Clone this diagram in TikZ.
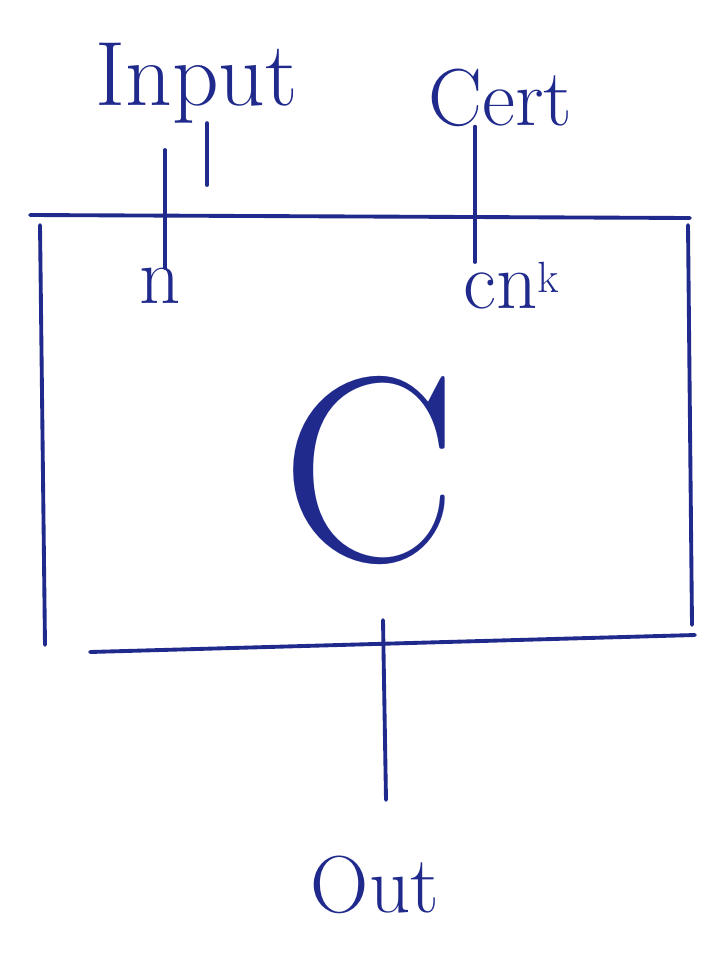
\documentclass[tikz,border=0pt]{standalone}
\definecolor{ink}{RGB}{32,42,140}
\tikzset{
  hand/.style={draw=ink, line width=2.2pt, line cap=round},
  lbl/.style={text=ink, inner sep=0pt, font=\fontsize{46}{50}\selectfont},
}
\begin{document}
\begin{tikzpicture}[x=0.02cm,y=-0.02cm]
\useasboundingbox[fill=white] (0,0) rectangle (722,974);
% box
\draw[hand] (30,215) -- (690,218);
\draw[hand] (40,225) -- (45,645);
\draw[hand] (688,225) -- (692,625);
\draw[hand] (90,652) -- (695,635);
% labels
\node[lbl, anchor=base west, font=\fontsize{52}{56}\selectfont] (input) at (95,105) {Input};
\node[lbl, anchor=base west] (cert) at (428,125) {Cert};
\node[lbl, anchor=north] (n) at (160,268) {n};
\node[lbl, anchor=north west] (cn) at (463,262) {cn$^{\mathrm{k}}$};
\node[lbl, font=\fontsize{150}{160}\selectfont] (C) at (370,470) {C};
\node[lbl] (out) at (375,885) {Out};
% connectors
\coordinate (inTop) at (165,150);
\coordinate (certTop) at (475,0);
\coordinate (outTop) at (383,620);
\coordinate (outEnd) at (386,800);
\coordinate (pTop) at (207,0);
\coordinate (pEnd) at (207,185);
\draw[hand] (inTop) -- (inTop |- n.north);
\draw[hand] (certTop |- cert.south) -- (certTop |- cn.north);
\draw[hand] (outTop) -- (outEnd);
\draw[hand] (pTop |- input.south) -- (pEnd);
\end{tikzpicture}
\end{document}
